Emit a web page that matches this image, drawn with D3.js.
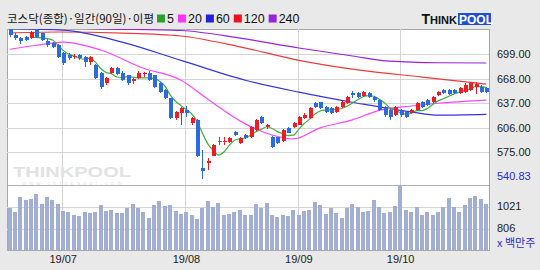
<!DOCTYPE html>
<html><head><meta charset="utf-8">
<script src="https://cdn.jsdelivr.net/npm/d3@7"></script>
<style>body{margin:0;background:#e9e9e9}svg{display:block}</style>
</head><body><svg id="c" width="540" height="270"></svg>
<script>
const dates = ["19/06/17","19/06/18","19/06/19","19/06/20","19/06/21","19/06/24","19/06/25","19/06/26","19/06/27","19/06/28",
"19/07/01","19/07/02","19/07/03","19/07/04","19/07/05","19/07/08","19/07/09","19/07/10","19/07/11","19/07/12","19/07/15","19/07/16","19/07/17","19/07/18","19/07/19","19/07/22","19/07/23","19/07/24","19/07/25","19/07/26","19/07/29","19/07/30","19/07/31",
"19/08/01","19/08/02","19/08/05","19/08/06","19/08/07","19/08/08","19/08/09","19/08/12","19/08/13","19/08/14","19/08/16","19/08/19","19/08/20","19/08/21","19/08/22","19/08/23","19/08/26","19/08/27","19/08/28","19/08/29","19/08/30",
"19/09/02","19/09/03","19/09/04","19/09/05","19/09/06","19/09/09","19/09/10","19/09/11","19/09/16","19/09/17","19/09/18","19/09/19","19/09/20","19/09/23","19/09/24","19/09/25","19/09/26","19/09/27","19/09/30",
"19/10/01","19/10/02","19/10/04","19/10/07","19/10/08","19/10/10","19/10/11","19/10/14","19/10/15","19/10/16","19/10/17","19/10/18","19/10/21","19/10/22","19/10/23","19/10/24","19/10/25"];
const opens  = [730,723,719,720,719,729,725,716,713,710,700,698,695,698,695,689,685,675,662,675,681,675,672,665,669,674,675,672,662,654,643,618,625,628,612,616,555,562,571,590,588,588,601,587,597,594,603,620,607,595,594,589,606,607,610,619,618,637,638,632,631,626,632,637,650,650,646,650,645,641,632,628,622,629,626,625,628,638,641,638,647,654,654,654,650,651,654,657,657,656];
const closes = [723,719,715,717,727,721,717,710,708,695,688,694,697,694,689,695,669,657,669,681,674,666,662,667,675,675,666,657,651,644,618,626,631,625,618,570,552,564,584,588,590,593,597,593,593,607,616,612,609,582,587,603,600,612,620,622,631,632,631,626,625,632,638,645,647,645,651,645,641,628,622,620,632,622,620,628,637,632,635,645,651,650,648,650,656,660,662,661,651,651];
const highs  = [731,725,721,722,728,730,726,718,714,711,701,700,699,699,697,697,686,676,670,683,683,677,673,669,677,676,677,673,664,655,644,627,632,634,620,617,578,568,586,594,595,594,602,594,598,608,617,621,611,596,595,604,607,613,621,625,632,638,639,633,632,633,640,646,652,651,652,651,646,642,634,630,633,630,627,630,638,640,642,646,652,655,655,655,657,662,664,664,660,658];
const lows   = [720,717,712,715,718,719,715,708,706,694,685,692,693,692,683,685,668,655,660,674,672,665,660,661,668,670,665,656,650,642,617,616,610,620,610,569,541,553,570,584,585,587,596,586,592,593,602,611,605,580,586,588,599,606,609,617,617,631,630,625,624,625,631,636,644,644,645,643,639,627,620,616,621,620,618,623,627,631,634,637,646,649,647,649,649,650,653,649,650,650];
const volumes = [1014,975,1122,1089,1096,1148,1050,1122,1089,1050,985,969,946,936,975,959,975,1038,985,995,965,959,1008,1047,1011,975,916,1043,1080,1028,1038,982,953,972,943,901,1011,1080,1024,1057,943,956,972,992,946,946,1050,1011,1057,946,926,943,936,992,943,982,992,1070,1038,953,1011,959,911,1011,1047,1024,969,982,1089,1024,962,969,1034,1226,992,975,1024,946,975,946,969,1024,1112,1024,975,1038,1112,1128,1096,1050];
// moving averages: [day index, value]
const ma20  = [[0,705],[5,710],[10,714],[17,704],[25,681],[32,666],[37,642],[44,611],[49,597],[53,592],[58,606],[64,616],[69,628],[75,633.5],[80,637],[89,641]];
const ma60  = [[0,731],[10,729],[21,714],[32,691],[44,666],[54,651],[65,637],[75,626],[80,622],[89,623]];
const ma120 = [[0,725.5],[9,726.7],[21,725.4],[32,721.7],[43,708],[54,691],[65,679],[77,670],[89,661]];
const ma240 = [[0,737],[8,733],[15,731],[32,728.6],[43,719],[54,706.6],[64,696.5],[71,690],[80,688],[89,687.7]];
const priceTicks = [699,668,637,606,575];
const priceMinLabel = 540.83;
const volTicks = [1021,806];
const monthTicks = ["19/07","19/08","19/09","19/10"];
const legendLabels = ["5","20","60","120","240"];
const legendColors = ["#2f9e2f","#ff33ff","#2222dd","#ee1122","#9922dd"];
const title = "코스닥(종합)·일간(90일)·이평";

const svg = d3.select("#c");
const L = 7, R = 489, PT = 29, PB = 185, VB = 250;
const idx = d3.range(dates.length);
const x = d3.scaleBand().domain(idx).range([L, R]).paddingInner(0.2).paddingOuter(0.1);
const cx = i => x(i) + x.bandwidth() / 2;
const y = d3.scaleLinear().domain([534, 730.5]).range([PB, PT]);
const yv = d3.scaleLinear().domain([601, 1236]).range([VB, PB]);

// background
svg.append("rect").attr("width", 540).attr("height", 270).attr("fill", "#e9e9e9");
svg.append("rect").attr("x", L).attr("y", PT).attr("width", R - L).attr("height", VB - PT)
  .attr("fill", "#fff").attr("stroke", "#a8a8a8").attr("shape-rendering", "crispEdges");

const defs = svg.append("defs");
defs.append("clipPath").attr("id", "cp").append("rect").attr("x", L).attr("y", PT).attr("width", R - L).attr("height", PB - PT);
defs.append("clipPath").attr("id", "cv").append("rect").attr("x", L).attr("y", PB).attr("width", R - L).attr("height", VB - PB);

// grid
const grid = svg.append("g").attr("stroke", "#d4d4d4").attr("shape-rendering", "crispEdges");
priceTicks.forEach(t => grid.append("line").attr("x1", L).attr("x2", R).attr("y1", Math.round(y(t)) + 0.5).attr("y2", Math.round(y(t)) + 0.5));
volTicks.forEach(t => grid.append("line").attr("x1", L).attr("x2", R).attr("y1", Math.round(yv(t)) + 0.5).attr("y2", Math.round(yv(t)) + 0.5));
const monthIdx = monthTicks.map(m => dates.findIndex(d => d.startsWith(m)));
monthIdx.forEach(i => grid.append("line").attr("x1", Math.round(cx(i)) - 0.5).attr("x2", Math.round(cx(i)) - 0.5).attr("y1", PT).attr("y2", VB));
svg.append("line").attr("x1", L).attr("x2", R).attr("y1", PB + 0.5).attr("y2", PB + 0.5).attr("stroke", "#b0b0b0").attr("shape-rendering", "crispEdges");

// watermark
svg.append("text").attr("x", 13).attr("y", 177).attr("font-family", "Arial, Liberation Sans, sans-serif").attr("font-weight", "bold")
  .attr("font-size", 14).attr("textLength", 118).attr("lengthAdjust", "spacingAndGlyphs").attr("fill", "#e2e2e2").text("THINKPOOL");
svg.append("text").attr("x", 22).attr("y", 184.5).attr("font-family", "DejaVu Sans, sans-serif")
  .attr("font-size", 5).attr("textLength", 100).attr("fill", "#e2e2e2").text("www.thinkpool.com");

// volume bars
svg.append("g").attr("clip-path", "url(#cv)").selectAll("rect").data(idx).join("rect")
  .attr("x", i => Math.round(x(i))).attr("width", 4)
  .attr("y", i => yv(volumes[i])).attr("height", i => VB - yv(volumes[i]))
  .attr("fill", "#a3aed4").attr("shape-rendering", "crispEdges");

// MA lines
const line = d3.line().x(d => cx(d[0])).y(d => y(d[1])).curve(d3.curveMonotoneX);
const lines = svg.append("g").attr("clip-path", "url(#cp)").attr("fill", "none").attr("stroke-width", 1.2);
[[ma240, legendColors[4]], [ma120, "#f03a3a"], [ma60, "#3535dd"], [ma20, "#ff44ff"]].forEach(([d, c]) =>
  lines.append("path").attr("d", line(d)).attr("stroke", c));
const ma5 = idx.filter(i => i >= 4).map(i => [i, d3.mean(closes.slice(i - 4, i + 1))]);
lines.append("path").attr("d", line(ma5)).attr("stroke", "#3fae3f");

// candles
const cg = svg.append("g").attr("clip-path", "url(#cp)").attr("shape-rendering", "crispEdges");
const col = i => closes[i] >= opens[i] ? "#ee1c24" : "#2a6be0";
cg.selectAll("line").data(idx).join("line")
  .attr("x1", i => Math.round(cx(i)) + 0.5).attr("x2", i => Math.round(cx(i)) + 0.5)
  .attr("y1", i => y(highs[i])).attr("y2", i => y(lows[i])).attr("stroke", col);
cg.selectAll("rect").data(idx).join("rect")
  .attr("x", i => Math.round(cx(i)) - 1.5).attr("width", 4)
  .attr("y", i => y(Math.max(opens[i], closes[i])))
  .attr("height", i => Math.max(1, Math.abs(y(opens[i]) - y(closes[i]))))
  .attr("fill", col);

// right axis labels
const ax = svg.append("g").attr("font-family", "Liberation Sans, Arial, sans-serif").attr("font-size", 11).attr("fill", "#222");
priceTicks.forEach(t => ax.append("text").attr("x", 497).attr("y", y(t) + 1).attr("dominant-baseline", "middle").text(d3.format(".2f")(t)));
ax.append("text").attr("x", 497).attr("y", y(priceMinLabel) - 2).attr("dominant-baseline", "middle").attr("fill", "#2b2bd0").text(d3.format(".2f")(priceMinLabel));
volTicks.forEach(t => ax.append("text").attr("x", 497).attr("y", yv(t) + 0.5).attr("dominant-baseline", "middle").text(t));
svg.append("text").attr("x", 497).attr("y", 247).attr("font-family", "Noto Sans CJK KR, sans-serif").attr("font-size", 11)
  .attr("fill", "#2b2bd0").text("x 백만주");

// bottom month labels
monthIdx.forEach((i, k) => svg.append("text").attr("x", cx(i)).attr("y", 263).attr("text-anchor", "middle")
  .attr("font-family", "Liberation Sans, Arial, sans-serif").attr("font-size", 11).attr("fill", "#222").text(monthTicks[k]));

// header
const hdr = svg.append("text").attr("x", 7).attr("y", 23).attr("font-family", "Noto Sans CJK KR, sans-serif")
  .attr("font-size", 11.5).attr("fill", "#111").text(title);
let hx = 7 + hdr.node().getComputedTextLength() + 3;
legendLabels.forEach((lab, k) => {
  svg.append("rect").attr("x", hx).attr("y", 14.5).attr("width", 8).attr("height", 8).attr("fill", legendColors[k]);
  hx += 10;
  const t = svg.append("text").attr("x", hx).attr("y", 23).attr("font-family", "Liberation Sans, Arial, sans-serif")
    .attr("font-size", 12.5).attr("fill", "#111").text(lab);
  hx += t.node().getComputedTextLength() + 4;
});

// logo
const logo = svg.append("g");
logo.append("rect").attr("x", 458).attr("y", 13).attr("width", 33).attr("height", 12).attr("fill", "#1f4fd0");
const lt = logo.append("text").attr("x", 457).attr("y", 24).attr("text-anchor", "end").attr("font-family", "Arial, Liberation Sans, sans-serif").attr("font-weight", "bold");
lt.append("tspan").attr("font-size", 14).attr("fill", "#111").text("T");
lt.append("tspan").attr("font-size", 11).attr("fill", "#111").text("HINK");
logo.append("text").attr("x", 459).attr("y", 24).attr("font-family", "Arial, Liberation Sans, sans-serif").attr("font-weight", "bold")
  .attr("font-size", 12).attr("fill", "#fff").text("POOL");
</script></body></html>
